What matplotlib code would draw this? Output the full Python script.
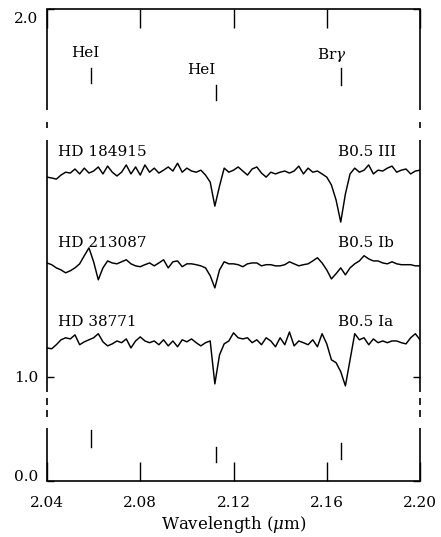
import matplotlib
matplotlib.use('Agg')
import matplotlib.pyplot as plt
import matplotlib.transforms as mtransforms
import numpy as np

plt.rcParams['font.family'] = ['DejaVu Serif']
plt.rcParams['mathtext.fontset'] = 'dejavuserif'

# spectra sampled every 0.002 um from 2.040 to 2.200
wave = np.linspace(2.04, 2.20, 81)

hd184915 = [0.986, 0.983, 0.979, 0.993, 1.003, 1.000, 1.014, 0.997, 1.017, 1.000,
            1.007, 1.021, 0.997, 1.024, 1.003, 0.990, 1.003, 1.028, 0.997, 1.021,
            0.993, 1.028, 1.003, 1.017, 1.000, 1.010, 1.021, 1.007, 1.034, 1.003,
            1.017, 1.007, 1.003, 1.010, 0.993, 0.969, 0.886, 0.955, 1.017, 1.003,
            1.010, 1.021, 1.007, 0.993, 1.014, 1.021, 1.000, 0.986, 1.003, 0.997,
            1.003, 1.007, 1.000, 1.007, 1.024, 0.997, 1.017, 1.003, 1.007, 0.997,
            0.986, 0.959, 0.907, 0.831, 0.928, 0.997, 1.017, 1.003, 1.010, 1.028,
            0.997, 1.010, 1.007, 1.017, 1.024, 1.003, 1.010, 1.014, 0.997, 1.007,
            1.010]

hd213087 = [1.003, 0.997, 0.986, 0.979, 0.969, 0.976, 0.986, 1.000, 1.028, 1.055,
            1.007, 0.945, 0.986, 1.010, 1.003, 1.000, 1.007, 1.014, 1.000, 0.993,
            0.990, 0.997, 1.003, 0.993, 1.003, 1.014, 0.986, 1.007, 1.010, 0.990,
            1.000, 1.000, 0.997, 0.993, 0.986, 0.959, 0.917, 0.979, 1.007, 1.000,
            1.000, 0.997, 0.990, 1.000, 1.003, 1.003, 0.993, 0.997, 0.997, 0.993,
            0.993, 0.997, 1.007, 1.000, 0.993, 0.997, 1.000, 1.010, 1.021, 1.003,
            0.979, 0.948, 0.966, 0.986, 0.962, 0.986, 1.000, 1.010, 1.028, 1.017,
            1.010, 1.010, 1.003, 1.000, 1.007, 1.000, 0.997, 0.997, 0.997, 0.993,
            0.993]

hd38771 = [0.979, 0.976, 0.990, 1.007, 1.014, 1.010, 1.024, 0.990, 1.000, 1.007,
           1.014, 1.028, 1.000, 0.986, 0.993, 1.003, 0.997, 1.010, 0.979, 1.003,
           1.017, 1.003, 0.997, 1.003, 0.990, 1.007, 0.986, 1.003, 0.983, 1.007,
           1.000, 1.010, 0.997, 0.986, 0.997, 1.003, 0.855, 0.955, 0.993, 1.003,
           1.031, 1.014, 1.010, 1.014, 0.997, 1.007, 0.990, 1.014, 1.003, 0.983,
           1.014, 0.990, 1.034, 0.986, 1.003, 0.997, 0.990, 1.007, 0.983, 1.028,
           0.993, 0.938, 0.928, 0.897, 0.848, 0.938, 1.028, 1.007, 1.014, 0.990,
           1.010, 0.997, 1.003, 0.997, 1.003, 1.003, 0.997, 0.993, 1.014, 1.028,
           1.007]

stars = ['HD 184915', 'HD 213087', 'HD 38771']
sptypes = ['B0.5 III', 'B0.5 Ib', 'B0.5 Ia']
offsets = [0.703, 0.390, 0.121]
spectra = [hd184915, hd213087, hd38771]

line_names = ['HeI', 'HeI', r'Br$\gamma$']
line_waves = [2.0587, 2.1126, 2.1661]

# broken y axis: piecewise linear scale (data -> height above bottom, px)
SEG_DATA = [-1.0, 0.0, 0.18, 0.948, 1.817, 1.85, 2.0, 3.0]
SEG_POS = [-294, 0, 53, 89, 341, 371, 472, 1145]


def fwd(y):
    return np.interp(y, SEG_DATA, SEG_POS)


def inv(u):
    return np.interp(u, SEG_POS, SEG_DATA)


fig = plt.figure(figsize=(4.41, 5.37), dpi=100)
fig.patch.set_facecolor('white')
ax = fig.add_axes([47 / 441, 56 / 537, 373 / 441, 472 / 537])
ax.set_yscale('function', functions=(fwd, inv))
ax.set_xlim(2.04, 2.20)
ax.set_ylim(0.0, 2.0)

for flux, off in zip(spectra, offsets):
    ax.plot(wave, np.array(flux) + off, color='k', lw=1.05)

label_y = [1.775, 1.463, 1.190]
for name, sp, ly in zip(stars, sptypes, label_y):
    ax.text(2.0447, ly, name, fontsize=11, ha='left', va='center')
    ax.text(2.1648, ly, sp, fontsize=11, ha='left', va='center')

# line identifications in the top and bottom strips
top_label_x = [2.0563, 2.1061, 2.1622]
top_label_y = [1.935, 1.909, 1.932]
top_ticks = [(1.912, 1.890), (1.887, 1.865), (1.912, 1.887)]
bot_ticks = [(0.173, 0.115), (0.115, 0.065), (0.129, 0.075)]
for name, w, lx, ly, tt, bt in zip(line_names, line_waves, top_label_x,
                                   top_label_y, top_ticks, bot_ticks):
    ax.text(lx, ly, name, fontsize=11, ha='center', va='center')
    ax.plot([w, w], tt, color='k', lw=1.0)
    ax.plot([w, w], bt, color='k', lw=1.0)

# broken side frames
ax.spines['left'].set_visible(False)
ax.spines['right'].set_visible(False)
ax.spines['top'].set_linewidth(1.2)
ax.spines['bottom'].set_linewidth(1.2)
ytr = ax.get_yaxis_transform()
frame_parts = [(1.85, 2.0), (0.948, 1.817), (0.0, 0.18)]
dash_parts = [(1.830, 1.837), (0.671, 0.820), (0.415, 0.564)]
for xa in (0, 1):
    for y0, y1 in frame_parts + dash_parts:
        ax.plot([xa, xa], [y0, y1], transform=ytr, color='k', lw=1.2,
                clip_on=False, solid_capstyle='butt')

ax.set_xticks([2.04, 2.08, 2.12, 2.16, 2.20])
ax.set_xticklabels(['2.04', '2.08', '2.12', '2.16', '2.20'])
ax.set_yticks([0.0, 1.0, 2.0])
ax.set_yticklabels(['0.0', '1.0', '2.0'])
ax.tick_params(axis='x', direction='in', length=14, width=1.0, top=True,
               bottom=True, pad=11, labelsize=11)
ax.tick_params(axis='y', direction='in', length=5, width=1.0, left=True,
               right=True, pad=6, labelsize=11)
ax.set_xlabel(r'Wavelength ($\mu$m)', fontsize=12, labelpad=3)

# nudge the corner labels off the frame corners
ylabels = ax.get_yticklabels()
for lab, dy in zip(ylabels, [4, 0, -6]):
    lab.set_transform(lab.get_transform() +
                      mtransforms.ScaledTranslation(0, dy / 72, fig.dpi_scale_trans))

fig.savefig('out.png', dpi=100, facecolor='white')
